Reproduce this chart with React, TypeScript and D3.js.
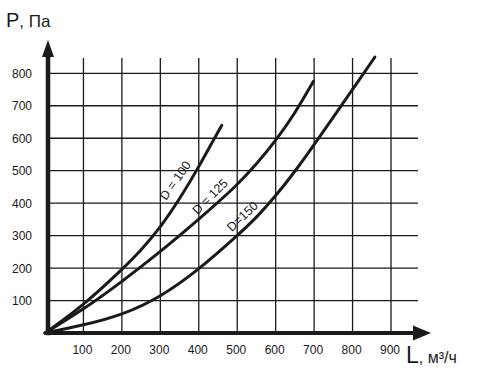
import React from "react";
import * as d3 from "d3";

const xTicks = [100, 200, 300, 400, 500, 600, 700, 800, 900];
const yTicks = [100, 200, 300, 400, 500, 600, 700, 800];

const d100L = [0, 100, 200, 250, 300, 350, 400, 437, 460];
const d100P = [0, 85, 195, 255, 325, 412, 512, 592, 640];

const d125L = [0, 100, 200, 300, 400, 500, 550, 600, 650, 698];
const d125P = [0, 72, 158, 250, 350, 455, 520, 592, 676, 775];

const d150L = [0, 100, 200, 300, 400, 500, 550, 600, 650, 700, 750, 800, 858];
const d150P = [0, 24, 55, 110, 195, 300, 355, 422, 497, 580, 665, 750, 850];

const seriesLabels = ["D = 100", "D = 125", "D=150"];

const W = 484;
const H = 387;

export default function App() {
  const x = d3.scaleLinear().domain([0, 900]).range([45, 391]);
  const y = d3.scaleLinear().domain([0, 800]).range([333, 73.3]);

  const series = [
    { L: d100L, P: d100P },
    { L: d125L, P: d125P },
    { L: d150L, P: d150P },
  ];

  const line = d3
    .line<[number, number]>()
    .x((d) => x(d[0]))
    .y((d) => y(d[1]))
    .curve(d3.curveBasis);

  const gridRight = 418;
  const gridTop = 58;
  const axisX = x(0) + 3;
  const font = "'Liberation Sans', Arial, Helvetica, sans-serif";
  const ink = "#1a1a1a";

  // label placement (data coords) and rotation
  const labelPos = [
    { L: 341, P: 468, a: -55 },
    { L: 431, P: 418, a: -45 },
    { L: 515, P: 357, a: -43 },
  ];

  return (
    <svg
      width={W}
      height={H}
      style={{ position: "absolute", left: 0, top: 0, background: "#fff" }}
      fontFamily={font}
    >
      <rect width={W} height={H} fill="#fff" />
      {/* grid */}
      {xTicks.map((t) => (
        <line
          key={"vx" + t}
          x1={x(t)}
          x2={x(t)}
          y1={gridTop}
          y2={y(0)}
          stroke={ink}
          strokeWidth={1.3}
        />
      ))}
      {yTicks.map((t) => (
        <line
          key={"hy" + t}
          x1={axisX}
          x2={gridRight}
          y1={y(t)}
          y2={y(t)}
          stroke={ink}
          strokeWidth={1.3}
        />
      ))}
      {/* curves */}
      {series.map((s, i) => (
        <path
          key={"c" + i}
          d={line(s.L.map((l, j) => [l, s.P[j]] as [number, number])) || ""}
          fill="none"
          stroke={ink}
          strokeWidth={3}
          strokeLinecap="round"
          strokeLinejoin="round"
        />
      ))}
      {/* curve labels */}
      {seriesLabels.map((lab, i) => (
        <text
          key={"lab" + i}
          x={x(labelPos[i].L)}
          y={y(labelPos[i].P)}
          transform={`rotate(${labelPos[i].a} ${x(labelPos[i].L)} ${y(labelPos[i].P)})`}
          textAnchor="middle"
          dominantBaseline="middle"
          fontSize={12.5}
          fill={ink}
        >
          {lab}
        </text>
      ))}
      {/* axes */}
      <line x1={axisX} x2={axisX} y1={y(0) + 2.2} y2={55} stroke={ink} strokeWidth={4.5} />
      <path d={`M${axisX},40 L${axisX - 6},57 L${axisX + 6},57 Z`} fill={ink} />
      <line x1={axisX - 2.2} x2={416} y1={y(0)} y2={y(0)} stroke={ink} strokeWidth={4.2} />
      <path d={`M431,${y(0)} L413,${y(0) - 7.5} L413,${y(0) + 7.5} Z`} fill={ink} />
      {/* tick labels */}
      {yTicks.map((t) => (
        <text
          key={"yl" + t}
          x={32}
          y={y(t) + 4.5}
          textAnchor="end"
          fontSize={12}
          fill={ink}
        >
          {t}
        </text>
      ))}
      {xTicks.map((t) => (
        <text
          key={"xl" + t}
          x={x(t) - 1}
          y={353.5}
          textAnchor="middle"
          fontSize={12}
          fill={ink}
        >
          {t}
        </text>
      ))}
      {/* axis titles */}
      <text x={6} y={27} fontSize={20} fill={ink}>
        P<tspan fontSize={17}>, Па</tspan>
      </text>
      <text x={406} y={363} fontSize={23} fill={ink}>
        L<tspan fontSize={16}>, м³/ч</tspan>
      </text>
    </svg>
  );
}
